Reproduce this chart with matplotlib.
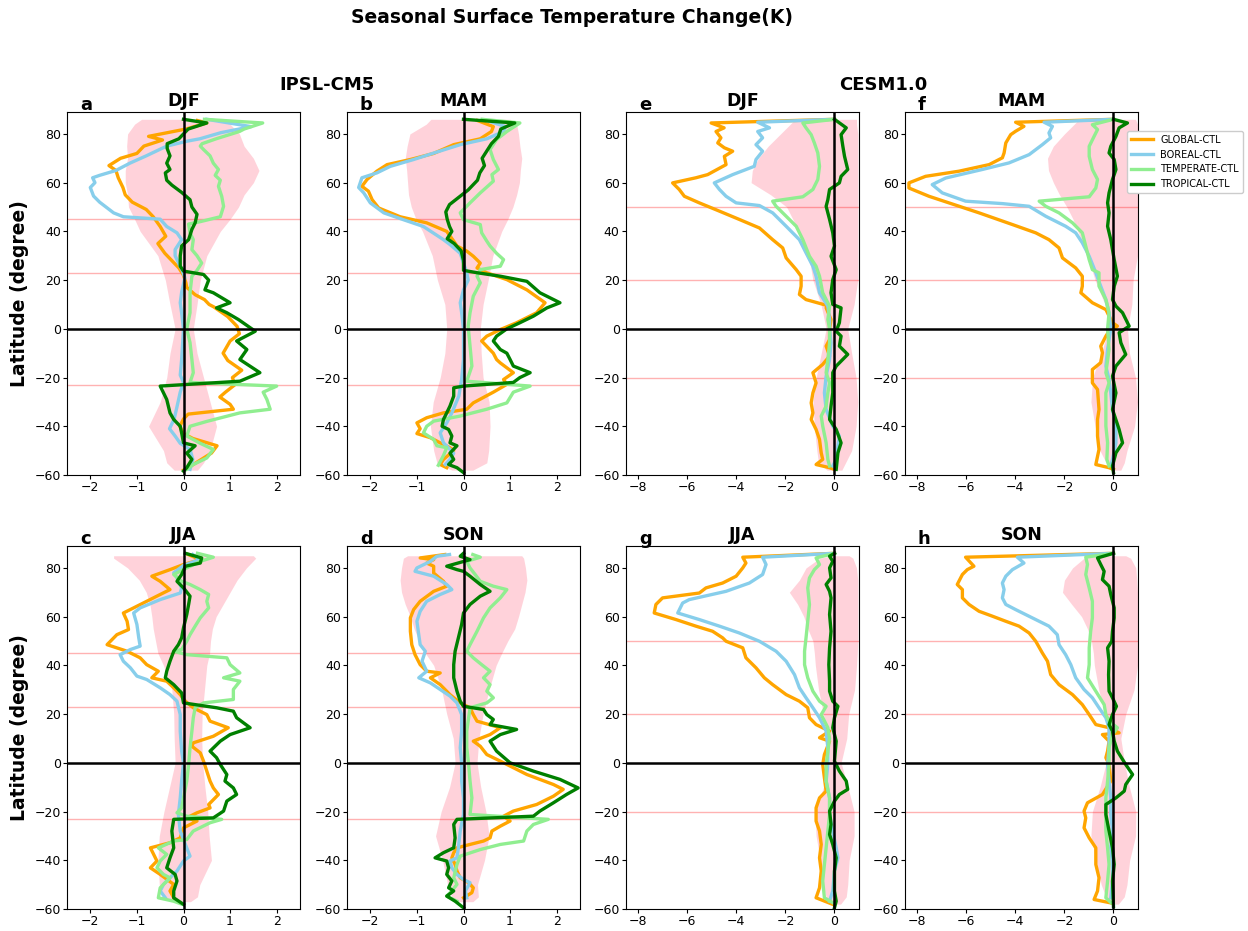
import matplotlib
matplotlib.use('Agg')
import matplotlib.pyplot as plt

# ---------------- DATA ----------------
SERIES = ['GLOBAL-CTL', 'BOREAL-CTL', 'TEMPERATE-CTL', 'TROPICAL-CTL']
COLORS = ['orange', 'skyblue', 'lightgreen', 'green']
SUPTITLE = 'Seasonal Surface Temperature Change(K)'
MODELS = ['IPSL-CM5', 'CESM1.0']
IPSL_LINES = [45, 23, -23]
CESM_LINES = [50, 20, -20]
IPSL_XTICKS = [-2, -1, 0, 1, 2]
CESM_XTICKS = [-8, -6, -4, -2, 0]
YTICKS = [-60, -40, -20, 0, 20, 40, 60, 80]

# (latitude, change) pairs
A_GLOBAL = [(85.5,0.3),(84.5,0.5),(82,0.05),(79,-0.75),(77.5,-0.45),(75,-0.85),(72,-1.0),(70,-1.35),(67,-1.6),
            (65,-1.45),(62,-1.4),(58,-1.3),(55,-1.25),(52,-1.1),(49,-0.8),(46,-0.65),(42,-0.5),(38,-0.38),(35,-0.55),
            (31,-0.4),(28,-0.25),(25,-0.1),(22,0.0),(19,0.05),(17,0.07),(14,0.25),(12,0.45),(10,0.55),(9,0.65),(5,0.95),
            (1,1.15),(-2,1.2),(-5,1.0),(-10,0.85),(-13,0.95),(-17,1.25),(-20,1.05),(-23,1.1),(-26,0.9),(-28,0.78),
            (-31,1.0),(-33,1.07),(-35,0.1),(-37,0.0),(-40,-0.08),(-43,0.0),(-45,0.2),(-48,0.72),(-51,0.6),(-54,0.35),
            (-57,0.1),(-58,0.0)]
A_BOREAL = [(86,0.5),(83,1.45),(80.5,0.8),(78,0.35),(77,0.07),(75,-0.36),(71,-0.8),(68,-1.15),(65,-1.45),(63,-1.8),
            (62,-1.95),(60,-1.9),(58,-2.0),(54.5,-1.93),(52,-1.8),(47.6,-1.5),(46,-1.29),(45,-0.5),(42,-0.36),
            (39.4,-0.14),(36.6,-0.04),(32.5,-0.18),(30,-0.18),(24,-0.03),(21,0.03),(15,-0.04),(10.7,-0.07),(6.5,-0.04),
            (0,0.0),(-12.6,-0.04),(-19,-0.07),(-22,0.0),(-26,-0.07),(-32,-0.14),(-37,-0.2),(-41,-0.3),(-44,-0.18),
            (-47,-0.07),(-49.5,0.14),(-53.6,0.2),(-57.7,0.14)]
A_TEMPERATE = [(86,0.45),(84.5,1.7),(82,1.3),(81,1.2),(78,0.7),(76,0.4),(75,0.36),(73.6,0.43),(71,0.57),(68,0.64),
               (65.4,0.75),(63,0.68),(61,0.79),(58.5,0.75),(54.4,0.82),(50.3,0.86),(46,0.79),(44,0.36),(43,0.11),
               (39.4,0.14),(36.6,0.21),(32.5,0.18),(30,0.29),(27,0.39),(24,0.29),(21.6,0.18),(14.8,0.14),(6.6,0.14),
               (0,0.07),(-5.7,0.14),(-12.6,0.18),(-18,0.21),(-22,0.14),(-23.5,2.0),(-26,1.71),(-29,1.79),(-33,1.86),
               (-34.5,1.21),(-38,0.5),(-40,0.14),(-44,0.07),(-47,0.36),(-49.5,0.64),(-53,0.5),(-55.7,0.21),(-57.7,0.07)]
A_TROPICAL = [(86,0.0),(84.5,0.5),(82,0.1),(80,0.0),(78,-0.1),(76,-0.35),(74,-0.35),(71,-0.29),(68,-0.36),(65.4,-0.29),
              (64,-0.39),(61,-0.36),(59,-0.25),(56,-0.04),(53,0.14),(50,0.18),(47,0.29),(43.5,0.25),(40.8,0.18),
              (36.6,0.11),(34,-0.04),(30,-0.07),(25.7,-0.07),(23.7,0.0),(22.3,0.43),(20,0.54),(16,0.46),(14.8,0.64),
              (10.7,1.0),(8.6,0.71),(6.6,0.93),(3.8,1.18),(-1,1.54),(-5,1.14),(-8.5,1.36),(-12.6,1.21),(-18,1.64),
              (-21.5,1.21),(-23.5,-0.5),(-29,-0.36),(-34.5,-0.29),(-37.2,-0.21),(-40,-0.07),(-42.7,-0.04),
              (-46.8,0.0),(-48,0.25),(-51,0.07),(-53.6,0.18),(-57,0.07),(-58.4,0.0)]
A_BAND = [(86,-0.9,0.8),(84,-1.05,1.0),(80,-1.2,1.2),(75,-1.22,1.3),(70,-1.2,1.5),(65,-1.25,1.62),(60,-1.25,1.5),
          (55,-1.2,1.3),(50,-1.18,1.18),(45,-1.05,1.0),(40,-0.93,0.79),(30,-0.55,0.5),(20,-0.39,0.36),(10,-0.29,0.29),
          (0,-0.18,0.21),(-10,-0.29,0.29),(-20,-0.36,0.43),(-30,-0.5,0.57),(-40,-0.75,0.71),(-50,-0.43,0.57),
          (-55,-0.36,0.43),(-58,-0.2,0.3)]

B_GLOBAL = [(85.5,0.3),(83,0.64),(81,0.6),(78,0.36),(75.6,-0.21),(72,-0.64),(69.5,-1.14),(67.4,-1.64),(64.7,-1.86),
            (61.3,-2.07),(58.5,-2.18),(56.5,-2.04),(53,-1.96),(49.6,-1.82),(46,-1.36),(43.5,-0.79),(40,-0.36),
            (36,-0.21),(34,-0.14),(31.9,0.07),(29.8,0.21),(27,0.36),(25,0.29),(23,0.5),(20.2,0.93),(16,1.36),
            (10.7,1.75),(6.6,1.57),(2.5,1.14),(-0.3,0.79),(-3,0.5),(-5,0.39),(-10,0.64),(-12.6,0.71),(-14,0.79),
            (-18,1.07),(-20.8,0.86),(-22.8,0.93),(-26,0.64),(-30.4,0.21),(-33,0.07),(-34.5,-0.43),(-36.5,-0.79),
            (-38.6,-1.0),(-41,-0.93),(-43,-1.0),(-44.7,-0.71),(-46.8,-0.5),(-48.8,-0.29),(-50,-0.21),(-53.6,-0.43),
            (-55.7,-0.5),(-57,-0.36)]
B_BOREAL = [(85.5,0.5),(83,0.9),(81,0.86),(78,0.5),(75.6,-0.07),(73,-0.5),(69.5,-1.07),(66.7,-1.57),(64,-1.86),
            (62,-2.18),(58,-2.25),(55.8,-2.14),(51.7,-2.0),(47.6,-1.71),(44.8,-1.29),(42,-0.86),(36.6,-0.43),
            (34.6,-0.29),(31,-0.07),(27,0.0),(23,0.07),(20,0.1),(16,0.0),(10.7,-0.07),(6.6,-0.04),(0,0.0),
            (-12.6,0.0),(-20.8,-0.04),(-27.6,-0.1),(-34.5,-0.25),(-38.6,-0.36),(-42.7,-0.5),(-46.8,-0.43),
            (-51,-0.21),(-53.6,-0.29),(-55.7,-0.39)]
B_TEMPERATE = [(86,0.4),(84.5,1.21),(81,0.93),(77.7,0.71),(73.6,0.57),(69.5,0.64),(65.4,0.75),(63.3,0.61),(60.6,0.64),
               (55.8,0.36),(51.7,0.14),(47.6,-0.07),(44.8,0.0),(42.8,0.36),(39.4,0.39),(36,0.5),(34,0.57),(31,0.71),
               (28.4,0.86),(25.7,0.79),(24.3,0.36),(21.6,0.29),(18.9,0.36),(13.4,0.21),(6.6,0.14),(1,0.1),(-7,0.14),
               (-15.3,0.18),(-21.5,0.07),(-23.5,1.43),(-26,1.07),(-30.4,0.93),(-33,0.5),(-35.8,-0.07),(-37.9,-0.64),
               (-40,-0.79),(-42.7,-0.86),(-45.4,-0.64),(-48,-0.57),(-48.8,-0.36),(-52,-0.43),(-56,-0.54)]
B_TROPICAL = [(86,0.0),(84.5,1.1),(82,0.8),(79,0.75),(76,0.6),(73,0.5),(70,0.4),(67,0.45),(64,0.35),(61,0.3),(57,0.1),
              (54,-0.1),(51,-0.3),(48,-0.38),(45,-0.35),(42,-0.3),(40,-0.25),(37,-0.35),(35,-0.2),(32,-0.05),(28,0.0),
              (24,0.0),(23,0.3),(21.6,0.79),(19.5,1.36),(14.8,1.64),(10.7,2.07),(8.6,1.79),(5.2,1.5),(2.5,1.21),
              (0,0.93),(-3,0.71),(-5,0.64),(-8.5,0.79),(-10,0.93),(-12.6,1.0),(-15.3,1.07),(-18,1.43),(-20,1.21),
              (-22,1.07),(-23.5,0.0),(-24.2,-0.21),(-27.6,-0.21),(-31.7,-0.29),(-34.5,-0.36),(-37.2,-0.43),
              (-40,-0.46),(-41.3,-0.32),(-44,-0.25),(-46.8,-0.29),(-48,-0.14),(-51,-0.29),(-53.6,-0.21),
              (-55.7,-0.32),(-57,-0.14),(-59,0.0)]
B_BAND = [(86,-0.7,1.0),(84,-0.8,1.14),(80,-1.15,1.18),(75,-1.21,1.21),(70,-1.25,1.25),(65,-1.22,1.22),(60,-1.2,1.2),
          (55,-1.18,1.14),(50,-1.12,1.06),(45,-1.02,0.95),(40,-0.88,0.82),(30,-0.67,0.63),(20,-0.56,0.53),
          (10,-0.4,0.42),(0,-0.36,0.36),(-10,-0.4,0.38),(-20,-0.5,0.42),(-30,-0.65,0.55),(-40,-0.71,0.57),
          (-50,-0.64,0.54),(-55,-0.57,0.5),(-58,-0.25,0.2)]

C_GLOBAL = [(85.5,0.1),(83.4,0.36),(81.4,0.0),(79.3,-0.29),(76.6,-0.68),(74.5,-0.5),(71.1,-0.29),(69.1,-0.5),
            (66.3,-0.79),(63.6,-1.07),(61.5,-1.29),(58.1,-1.21),(54.7,-1.18),(52.6,-1.43),(48.5,-1.64),(45.8,-1.21),
            (43.1,-0.93),(40.3,-0.79),(37.6,-0.54),(34.9,-0.68),(33.5,-0.36),(30.8,-0.21),(28,-0.07),(25.3,0.04),
            (22.6,0.21),(19.8,0.5),(17.1,0.57),(14.4,0.96),(10.9,0.64),(8.2,0.21),(6.8,0.18),(4.1,0.36),(0.7,0.43),
            (-3.4,0.5),(-7.5,0.57),(-10.3,0.64),(-13,0.75),(-17.1,0.54),(-18.5,0.57),(-20.5,0.29),(-22.6,0.07),
            (-23.9,0.29),(-26.7,0.0),(-30.8,-0.07),(-32.8,-0.29),(-34.9,-0.71),(-37.6,-0.64),(-40.3,-0.57),
            (-43.1,-0.71),(-45.8,-0.5),(-49.9,-0.21),(-52.6,-0.29),(-55.4,-0.21)]
C_BOREAL = [(85.5,0.2),(83.5,0.35),(81,0.0),(78,-0.21),(75.9,-0.14),(71.8,-0.04),(69.7,-0.07),(67,-0.5),(63.6,-0.93),
            (61.5,-1.07),(56.8,-1.0),(51.3,-0.96),(47.9,-0.93),(46.5,-1.14),(44.4,-1.36),(41.7,-1.29),(39,-1.14),
            (35.6,-1.0),(34.2,-0.79),(30.8,-0.5),(28,-0.29),(25.3,-0.14),(19.8,-0.07),(13,-0.07),(4.8,-0.04),(0,0.0),
            (-7.5,-0.04),(-14.4,-0.07),(-21.2,-0.11),(-28,-0.07),(-33.5,0.04),(-38.3,0.14),(-40.3,0.0),(-44.4,-0.14),
            (-47.2,-0.29),(-49.9,-0.43),(-52.6,-0.5),(-55.4,-0.39)]
C_TEMPERATE = [(86,0.3),(84.4,0.64),(82.7,0.36),(80,0.07),(77.3,-0.21),(74.5,-0.04),(73.2,0.14),(71.1,0.36),
               (69.1,0.54),(66.3,0.5),(63.6,0.54),(59.5,0.36),(56.1,0.25),(52.6,0.14),(49.9,0.07),(46.5,-0.04),
               (45.8,-0.21),(44.4,0.07),(43.1,0.93),(40.3,1.0),(36.9,1.21),(34.9,0.86),(33.5,1.21),(30.1,1.07),
               (26,1.07),(24.6,0.43),(22.6,0.25),(18.5,0.21),(13,0.18),(6.2,0.14),(-0.7,0.11),(-7.5,0.07),
               (-14.4,0.0),(-18.5,-0.04),(-20.5,-0.14),(-21.9,0.07),(-23.2,0.82),(-24.6,0.57),(-28,0.21),
               (-31.5,0.07),(-32.1,-0.21),(-34.9,-0.54),(-37.6,-0.36),(-40.3,-0.5),(-43.1,-0.57),(-45.8,-0.43),
               (-47.2,-0.29),(-51.3,-0.5),(-55.4,-0.54),(-56.8,-0.21),(-58,-0.04)]
C_TROPICAL = [(86,0.04),(84.1,0.39),(82,0.36),(80.7,0.04),(77.3,-0.04),(74.5,-0.14),(71.8,0.0),(68.4,0.14),(65,0.11),
              (60.9,0.07),(55.4,0.0),(51.3,-0.04),(48.5,-0.11),(45.8,-0.21),(41.7,-0.29),(37.6,-0.36),(34.9,-0.39),
              (32.1,-0.21),(28.7,-0.04),(24.6,0.0),(22.6,0.71),(21.2,1.07),(18.5,1.14),(14.4,1.43),(11.6,1.0),
              (8.9,0.79),(4.8,0.57),(2.1,0.71),(-0.7,0.79),(-4.8,0.93),(-7.5,0.89),(-10.3,1.07),(-13,1.14),
              (-15.7,0.93),(-19.8,0.86),(-22.6,0.64),(-23.2,-0.21),(-28,-0.25),(-34.9,-0.21),(-39,-0.29),
              (-43.1,-0.36),(-45.8,-0.18),(-48.5,-0.14),(-52.6,-0.21),(-55.4,-0.21),(-58.1,0.0)]
C_BAND = [(85,-1.5,1.5),(84,-1.5,1.55),(80,-1.2,1.35),(75,-0.95,1.15),(70,-0.8,1.0),(65,-0.72,0.85),(60,-0.68,0.7),
          (55,-0.65,0.62),(50,-0.6,0.58),(45,-0.55,0.56),(40,-0.43,0.5),(30,-0.25,0.45),(20,-0.21,0.4),
          (10,-0.2,0.39),(0,-0.18,0.41),(-10,-0.3,0.46),(-20,-0.42,0.52),(-30,-0.52,0.55),(-40,-0.55,0.6),
          (-50,-0.52,0.35),(-55,-0.45,0.3),(-57,-0.2,0.15)]

D_GLOBAL = [(85.5,-0.4),(84.1,-0.93),(83.4,-0.64),(82,-0.79),(80.7,-0.64),(77.9,-0.64),(74.5,-0.43),(72.5,-0.36),
            (70.4,-0.64),(66.3,-0.93),(62.9,-1.07),(59.5,-1.14),(54,-1.14),(48.5,-1.11),(44.4,-1.04),(40.3,-0.93),
            (37.6,-0.79),(36.9,-0.5),(34.9,-0.71),(32.1,-0.5),(28,-0.29),(24.6,-0.07),(22.6,0.14),(19.8,0.21),
            (17.1,0.29),(14.4,0.79),(11.6,0.57),(8.9,0.21),(6.8,0.36),(3.4,0.5),(0.7,0.79),(-4.8,1.36),(-8.9,1.93),
            (-10.9,2.14),(-13.7,1.93),(-17.1,1.57),(-19.8,1.07),(-21.9,0.86),(-23.9,1.0),(-26,0.79),(-28,0.61),
            (-30.8,0.57),(-32.1,0.43),(-33.5,0.14),(-34.9,-0.14),(-36.9,-0.21),(-39,-0.25),(-41.7,-0.18),
            (-44.4,-0.14),(-47.2,-0.07),(-49.2,0.11),(-51.3,0.21),(-53.3,0.18),(-55.4,0.0)]
D_BOREAL = [(85.5,-0.3),(84.8,-0.57),(82.7,-0.71),(80,-1.0),(78.6,-1.04),(76.6,-0.64),(73.2,-0.36),(71.1,-0.25),
            (69.1,-0.5),(66.3,-0.79),(62.2,-0.93),(58.1,-1.0),(52.6,-0.96),(48.5,-0.93),(45.8,-0.82),(41.7,-0.89),
            (37.6,-0.79),(34.9,-0.96),(32.8,-0.71),(30.1,-0.5),(27.4,-0.29),(24.6,-0.14),(19.8,-0.04),(13,-0.04),
            (6.2,-0.07),(0,-0.04),(-7.5,-0.04),(-14.4,0.0),(-21.2,0.0),(-28,-0.07),(-34.9,-0.11),(-39,-0.14),
            (-40.3,-0.29),(-43.1,-0.25),(-45.8,-0.14),(-47.9,0.0),(-49.2,0.14),(-52.6,0.04),(-55.4,0.07)]
D_TEMPERATE = [(85.5,0.2),(84.4,0.36),(82.7,0.07),(80,0.14),(77.3,0.25),(74.5,0.36),(72.5,0.64),(71.1,0.93),
               (67.7,0.79),(63.6,0.57),(59.5,0.43),(54,0.29),(48.5,0.14),(45.8,0.07),(43.1,0.21),(40.3,0.39),
               (37.6,0.57),(34.9,0.43),(32.1,0.57),(29.4,0.5),(26.7,0.64),(24.6,0.5),(22.6,0.14),(18.5,0.11),
               (13,0.07),(6.2,0.07),(-0.7,0.11),(-7.5,0.14),(-14.4,0.18),(-21.2,0.14),(-23.2,1.82),(-25.3,1.5),
               (-28,1.36),(-32.1,1.29),(-33.5,0.79),(-35.6,0.36),(-38.3,-0.07),(-41.7,-0.14),(-47.2,-0.21),
               (-49.9,-0.14),(-52.6,-0.25),(-54.7,-0.36),(-56.8,-0.14)]
D_TROPICAL = [(86,0.0),(84.8,-0.07),(83.4,0.14),(80.7,-0.36),(79.3,-0.14),(78.6,0.0),(76.6,0.14),(73.2,0.36),
              (70.4,0.57),(68.4,0.36),(65,0.14),(61.5,0.0),(56.8,-0.04),(51.3,-0.11),(45.8,-0.18),(40.3,-0.21),
              (34.9,-0.21),(29.4,-0.14),(25.3,-0.07),(23.2,0.0),(21.9,0.43),(19.8,0.5),(17.8,0.64),(15.7,0.57),
              (13.7,1.14),(11.6,0.79),(8.9,0.57),(4.8,0.71),(0,1.0),(-3.4,1.5),(-6.8,2.07),(-10.3,2.46),(-13,2.21),
              (-16.4,1.93),(-19.8,1.64),(-21.9,1.5),(-23.2,-0.14),(-25.3,-0.21),(-30.8,-0.18),(-34.9,-0.21),
              (-36.9,-0.43),(-39,-0.61),(-40.3,-0.36),(-43.1,-0.32),(-45.8,-0.36),(-48.5,-0.25),(-51.3,-0.32),
              (-52.6,-0.21),(-54.7,-0.36),(-56.8,-0.18),(-59.5,0.0)]
D_BAND = [(85,-1.2,1.25),(84,-1.29,1.29),(80,-1.33,1.33),(75,-1.36,1.36),(70,-1.33,1.32),(65,-1.25,1.25),
          (60,-1.14,1.18),(55,-1.06,1.1),(50,-0.95,0.95),(45,-0.82,0.82),(40,-0.64,0.7),(30,-0.47,0.55),
          (20,-0.36,0.42),(10,-0.22,0.33),(0,-0.18,0.29),(-10,-0.3,0.37),(-20,-0.48,0.48),(-30,-0.6,0.55),
          (-40,-0.45,0.45),(-50,-0.34,0.3),(-55,-0.25,0.32),(-57,-0.1,0.2)]

E_GLOBAL = [(86,0.0),(84.5,-5.03),(82.5,-4.5),(81,-4.83),(78.4,-4.63),(76.3,-4.76),(74.3,-4.49),(72.9,-4.15),
            (70.8,-4.49),(67.4,-4.42),(63.3,-5.17),(62,-5.65),(59.9,-6.6),(57.2,-6.33),(54.4,-6.12),(51.7,-5.51),
            (48.3,-4.69),(44.9,-3.88),(41.4,-3.06),(36.6,-2.52),(33.2,-2.11),(29.1,-1.97),(24.3,-1.56),(21.6,-1.36),
            (17.5,-1.36),(14.1,-1.43),(12,-1.16),(9.3,-0.2),(8.6,-0.34),(3.8,-0.14),(0,-0.2),(-4.4,-0.2),
            (-7.1,-0.34),(-11.2,-0.2),(-14.6,-0.48),(-18,-0.88),(-22.2,-0.75),(-26.3,-0.88),(-30.4,-0.95),
            (-34.5,-0.88),(-37.2,-0.95),(-41.3,-0.75),(-45.4,-0.61),(-50.9,-0.54),(-53.6,-0.48),(-55.7,-0.75),
            (-57,-0.2),(-57.7,0.0)]
E_BOREAL = [(86,0.0),(84.8,-3.13),(82.5,-2.65),(81,-3.13),(78.4,-2.93),(75.6,-3.2),(72.9,-2.93),(69.5,-3.2),
            (66.7,-3.27),(63.3,-4.15),(59.9,-4.9),(57.2,-4.69),(54.4,-4.42),(51.7,-4.01),(50.6,-3.06),(47.6,-2.52),
            (42.1,-1.97),(36.6,-1.43),(31.2,-1.16),(25.7,-0.88),(21.6,-0.75),(14.8,-0.61),(9.3,-0.27),(3.8,-0.2),
            (0,-0.2),(-5.7,-0.14),(-12.6,-0.2),(-19.4,-0.34),(-26.3,-0.41),(-33.1,-0.34),(-39.9,-0.07),(-44,0.2),
            (-48.1,0.14),(-53.6,0.07),(-56.3,-0.07)]
E_TEMPERATE = [(86,0.0),(84.5,-1.29),(82.5,-1.16),(79.7,-0.95),(76.3,-0.82),(72.2,-0.68),(66.7,-0.61),(61.3,-0.68),
               (57.2,-0.88),(54.2,-1.29),(52.4,-2.52),(50.3,-2.38),(46.2,-1.97),(42.1,-1.56),(36.6,-1.29),
               (29.8,-1.02),(25.7,-0.75),(21.6,-0.61),(14.8,-0.48),(9.3,-0.2),(3.8,-0.27),(0,-0.2),(-5.7,-0.2),
               (-12.6,-0.27),(-18,-0.34),(-22.2,-0.2),(-26.3,-0.27),(-31.7,-0.34),(-35.8,-0.54),(-39.9,-0.48),
               (-46.8,-0.34),(-53.6,-0.27),(-56.3,-0.2)]
E_TROPICAL = [(86,0.0),(82.5,0.48),(79.7,0.27),(75,0.34),(70.8,0.41),(65.4,0.54),(62.6,0.27),(59.9,0.2),(57.2,-0.2),
              (53,-0.27),(50.3,-0.34),(44.9,-0.2),(39.4,-0.07),(34,0.0),(29.8,-0.14),(24.3,0.07),(20.2,-0.07),
              (14.8,-0.14),(10,-0.07),(8.6,0.27),(2.5,0.2),(-1,0.07),(-3,0.27),(-7.1,0.2),(-10.5,0.54),(-15.3,0.07),
              (-18,-0.07),(-26.3,-0.07),(-31.7,-0.14),(-37.2,-0.2),(-41.3,0.07),(-46.8,0.27),(-50.9,0.14),
              (-57.7,0.07)]
E_BAND = [(86,-1.6,0.9),(84,-1.8,0.9),(80,-2.2,0.95),(75,-2.7,0.95),(70,-3.1,0.95),(65,-3.35,0.95),(60,-3.4,0.95),
          (55,-2.6,0.95),(50,-1.95,0.95),(45,-1.7,0.95),(40,-1.45,0.95),(30,-1.05,0.95),(20,-0.88,0.95),
          (10,-0.55,0.8),(0,-0.34,0.54),(-10,-0.54,0.7),(-20,-0.75,0.88),(-30,-0.88,0.95),(-40,-0.82,0.88),
          (-50,-0.72,0.7),(-55,-0.65,0.45),(-58,-0.3,0.3)]

F_GLOBAL = [(86,0.0),(84.8,-3.99),(83.1,-3.65),(81.1,-3.99),(79.7,-4.19),(76.3,-4.39),(72.2,-4.46),(70.2,-4.53),
            (67.4,-5.07),(64.7,-6.3),(62.6,-7.66),(59.9,-8.34),(57.8,-8.34),(54.4,-7.52),(51.7,-6.71),(47.6,-5.48),
            (42.8,-4.12),(39.4,-3.17),(36.6,-2.63),(33.2,-2.22),(29.1,-2.08),(25,-1.54),(21.6,-1.27),(17.5,-1.27),
            (14.8,-1.33),(10.7,-0.86),(7.9,-0.31),(2.5,-0.04),(1.1,0.16),(-1,-0.18),(-3,-0.31),(-7.1,-0.52),
            (-9.8,-0.45),(-13.9,-0.52),(-16.7,-0.86),(-22.2,-0.86),(-24.9,-0.65),(-33.1,-0.59),(-37.2,-0.65),
            (-44,-0.65),(-49.5,-0.59),(-55.7,-0.72),(-57,-0.18),(-57.7,0.0)]
F_BOREAL = [(86,0.0),(84.8,-2.83),(83.1,-2.49),(80.4,-2.63),(78.4,-2.56),(75.6,-2.9),(71.5,-3.44),(68.1,-4.26),
            (65.4,-5.35),(61.9,-6.84),(59.2,-7.39),(55.8,-6.98),(52.4,-6.03),(51.4,-4.53),(50.3,-3.44),(46.2,-2.76),
            (42.1,-1.95),(39.4,-1.54),(35.3,-1.27),(29.8,-0.99),(23,-0.72),(17.5,-0.52),(12,-0.31),(6.6,-0.18),
            (0,-0.11),(-8.5,-0.24),(-15.3,-0.31),(-20.8,-0.18),(-26.3,-0.11),(-33.1,-0.04),(-39.9,0.1),(-46.8,0.1),
            (-53.6,-0.04),(-56,-0.1)]
F_TEMPERATE = [(86,0.0),(83.8,-0.86),(81.8,-0.65),(79,-0.79),(74.9,-0.99),(70.8,-0.99),(65.4,-0.86),(61.3,-0.65),
               (57.8,-0.72),(54.2,-0.99),(52.4,-3.03),(50.3,-2.76),(47.6,-2.22),(43.5,-1.67),(39.4,-1.27),
               (33.9,-1.13),(28.4,-0.99),(24.3,-0.86),(23,-0.59),(17.5,-0.59),(12,-0.31),(6.6,-0.18),(0,-0.24),
               (-8.5,-0.18),(-18,-0.31),(-22.2,-0.18),(-26.3,-0.31),(-34.5,-0.31),(-39.9,-0.31),(-46.8,-0.24),
               (-53.6,-0.27),(-56.3,-0.18)]
F_TROPICAL = [(86,0.0),(84.5,0.57),(82.5,0.23),(79,0.1),(74.9,-0.11),(72.2,-0.18),(69.5,0.03),(65.4,0.1),(61.3,-0.04),
              (55.8,-0.18),(51.7,-0.24),(47.6,-0.18),(42.1,-0.24),(36.6,-0.11),(28.4,0.03),(21.6,0.16),(17.5,0.03),
              (12,-0.04),(9.3,0.1),(6.6,0.37),(1.1,0.64),(-1.6,0.23),(-5.7,0.3),(-10.5,0.5),(-15.3,0.1),
              (-19.4,-0.04),(-26.3,0.1),(-33.1,-0.04),(-41.3,0.23),(-46.8,0.37),(-50.9,0.1),(-56.3,-0.04),(-59,0.0)]
F_BAND = [(86,-1.4,0.9),(84,-1.6,0.98),(80,-2.0,0.98),(75,-2.45,0.98),(70,-2.69,0.98),(65,-2.65,0.98),(60,-2.45,0.98),
          (55,-2.2,0.98),(50,-1.9,0.98),(45,-1.65,0.98),(40,-1.45,0.98),(30,-1.06,0.98),(20,-0.75,0.8),
          (10,-0.35,0.75),(0,-0.2,0.57),(-10,-0.5,0.65),(-20,-0.85,0.9),(-30,-0.92,0.98),(-40,-0.75,0.86),
          (-50,-0.55,0.55),(-55,-0.3,0.44),(-58,-0.1,0.3)]

G_GLOBAL = [(86,0.0),(84.4,-3.74),(82,-3.61),(80,-3.74),(76.6,-4.01),(73.8,-4.56),(71.8,-5.24),(69.7,-5.51),
            (67.7,-7.01),(65,-7.28),(61.5,-7.35),(58.8,-6.46),(56.1,-5.65),(54,-4.97),(51.3,-4.56),(49.9,-4.42),
            (47.2,-3.74),(43.1,-3.61),(39,-3.2),(34.9,-2.86),(32.1,-2.52),(28,-1.97),(25.3,-1.43),(22.6,-1.09),
            (18.5,-1.02),(15.7,-0.75),(13,-0.2),(10.3,-0.61),(8.9,-0.2),(3.4,-0.41),(-0.7,-0.48),(-6.2,-0.41),
            (-11.6,-0.34),(-14.4,-0.61),(-18.5,-0.75),(-23.9,-0.75),(-28,-0.61),(-33.5,-0.54),(-39,-0.61),
            (-44.4,-0.54),(-51.3,-0.61),(-55.4,-0.75),(-58.1,-0.07)]
G_BOREAL = [(86,0.0),(84.4,-2.93),(81.4,-2.79),(77.3,-2.93),(73.8,-3.47),(70.4,-4.42),(67,-5.92),(65.6,-6.19),
            (61.5,-6.39),(58.8,-5.51),(56.1,-4.69),(53.3,-3.88),(49.9,-3.06),(45.8,-2.38),(41.7,-1.97),(36.2,-1.63),
            (30.8,-1.43),(26.7,-1.16),(22.6,-0.88),(18.5,-0.61),(13,-0.34),(6.2,-0.27),(-0.7,-0.27),(-7.5,-0.34),
            (-14.4,-0.2),(-21.2,-0.2),(-28,-0.07),(-34.9,0.07),(-39,0.14),(-44.4,0.0),(-52.6,-0.07),(-56.8,-0.2)]
G_TEMPERATE = [(86,0.0),(84.1,-0.75),(81.4,-0.61),(79.3,-0.82),(75.9,-1.02),(71.8,-1.09),(65,-1.02),(58.1,-1.09),
               (51.3,-1.16),(45.8,-1.22),(40.3,-1.22),(34.9,-1.09),(29.4,-0.88),(25.3,-0.61),(23.2,-0.34),
               (19.8,-0.54),(14.4,-0.27),(10,-0.2),(4.8,-0.27),(-0.7,-0.34),(-7.5,-0.34),(-14.4,-0.2),(-21.2,-0.2),
               (-28,-0.27),(-34.9,-0.34),(-41.7,-0.41),(-48.5,-0.48),(-55.4,-0.41),(-57.4,-0.07)]
G_TROPICAL = [(86,0.0),(84.8,-0.2),(82.7,-0.07),(80,-0.2),(75.9,-0.14),(73.2,-0.34),(70.4,-0.2),(67.7,-0.14),
              (60.9,-0.2),(54,-0.14),(47.2,-0.2),(40.3,-0.23),(33.5,-0.2),(29.4,-0.2),(25.3,-0.07),(23.2,0.14),
              (18.5,0.0),(14.4,-0.07),(8.9,0.07),(0.7,0.0),(-3.4,0.2),(-7.5,0.48),(-10.9,0.54),(-13,0.2),(-15.7,0.0),
              (-19.8,-0.2),(-25.3,-0.14),(-29.4,-0.2),(-33.5,-0.07),(-39,0.07),(-44.4,0.0),(-52.6,0.0),(-56.8,0.07),
              (-59.5,0.0)]
G_BAND = [(85,-0.1,0.6),(84,-0.6,0.75),(80,-1.16,0.9),(75,-1.43,0.95),(70,-1.84,0.95),(65,-1.5,0.95),(60,-1.25,0.95),
          (55,-1.09,0.95),(50,-0.88,0.95),(45,-0.82,0.93),(40,-0.78,0.9),(30,-0.65,0.82),(20,-0.45,0.58),
          (10,-0.3,0.5),(0,-0.2,0.27),(-10,-0.45,0.55),(-20,-0.8,0.8),(-30,-0.75,0.8),(-40,-0.58,0.6),
          (-50,-0.48,0.54),(-55,-0.34,0.48),(-58,-0.1,0.25)]

H_GLOBAL = [(86,0.0),(84.4,-6.03),(80.7,-5.69),(79.3,-5.96),(77.3,-6.16),(73.2,-6.37),(71.1,-6.16),(67.7,-6.16),
            (65,-5.89),(62.2,-5.48),(60.2,-4.94),(58.1,-4.39),(56.1,-3.85),(53.3,-3.44),(49.9,-3.17),(45.1,-2.9),
            (41.7,-2.69),(36.2,-2.56),(32.1,-2.22),(28,-1.67),(23.9,-1.27),(19.8,-0.99),(15.7,-0.72),(14.4,-0.18),
            (12.3,0.23),(11.6,-0.45),(8.9,-0.18),(4.8,-0.24),(2.1,-0.31),(-0.7,-0.18),(-7.5,-0.11),(-13,-0.45),
            (-16.4,-1.06),(-19.8,-1.2),(-22.6,-1.13),(-26.7,-1.2),(-30.8,-0.99),(-34.9,-0.72),(-41.7,-0.72),
            (-47.2,-0.59),(-52.6,-0.65),(-56.1,-0.79),(-57.5,-0.11)]
H_BOREAL = [(86,0.0),(84.4,-3.92),(82,-3.65),(79.3,-4.12),(76.6,-4.39),(73.8,-4.53),(71.1,-4.46),(67.7,-4.53),
            (65,-4.39),(62.9,-3.99),(59.5,-3.31),(56.1,-2.63),(52.6,-2.29),(48.5,-2.22),(44.4,-1.95),(40.3,-1.74),
            (34.9,-1.54),(30.1,-1.2),(26.7,-0.86),(22.6,-0.59),(18.5,-0.31),(14.4,-0.18),(6.2,-0.18),(-0.7,-0.24),
            (-7.5,-0.18),(-14.4,-0.11),(-21.2,-0.11),(-28,-0.04),(-34.9,-0.11),(-41.7,-0.04),(-48.5,-0.04),
            (-55.4,-0.11)]
H_TEMPERATE = [(86,0.0),(84.4,-1.13),(81.4,-1.06),(77.3,-1.13),(71.8,-0.99),(66.3,-0.86),(59.5,-0.86),(54,-0.93),
               (47.2,-0.99),(40.3,-0.99),(34.9,-1.06),(29.4,-0.72),(23.9,-0.38),(19.8,-0.31),(17.1,-0.18),
               (14.4,0.16),(11.6,-0.04),(6.2,-0.18),(-0.7,-0.18),(-7.5,-0.24),(-14.4,-0.31),(-21.2,-0.31),
               (-28,-0.31),(-34.9,-0.24),(-41.7,-0.18),(-48.5,-0.24),(-55.4,-0.31),(-57.4,-0.1)]
H_TROPICAL = [(86,0.0),(84.1,-0.65),(81.4,-0.52),(78.6,-0.38),(75.2,-0.45),(72.5,-0.18),(69.1,-0.11),(63.6,0.03),
              (59.5,0.03),(54,-0.04),(49.9,-0.07),(47.2,-0.24),(41.7,-0.18),(36.2,-0.2),(29.4,-0.18),(26.7,-0.04),
              (23.2,0.12),(19.8,-0.04),(15.7,-0.18),(13,-0.04),(8.9,0.03),(4.8,0.16),(-0.7,0.5),(-4.8,0.78),
              (-8.9,0.5),(-11.6,0.44),(-14.4,0.1),(-17.1,-0.31),(-21.2,-0.31),(-28,-0.18),(-34.9,-0.04),
              (-41.7,0.03),(-48.5,-0.04),(-59,0.0)]
H_BAND = [(85,-0.5,0.5),(84,-1.2,0.7),(80,-1.67,0.91),(75,-2.0,0.95),(70,-2.08,0.98),(65,-1.7,0.98),(60,-1.3,0.98),
          (55,-1.06,0.98),(50,-0.9,0.98),(45,-0.82,0.98),(40,-0.78,0.98),(30,-0.6,0.84),(20,-0.35,0.5),
          (10,-0.24,0.3),(0,-0.3,0.45),(-10,-0.55,0.65),(-20,-0.86,0.91),(-30,-0.92,0.9),(-40,-0.72,0.66),
          (-50,-0.5,0.55),(-55,-0.31,0.44),(-58,-0.1,0.2)]

# panel letter, season, series, band, model index ; layout: row, column
PANELS = [
    ('a', 'DJF', [A_GLOBAL, A_BOREAL, A_TEMPERATE, A_TROPICAL], A_BAND, 0, 0, 0),
    ('b', 'MAM', [B_GLOBAL, B_BOREAL, B_TEMPERATE, B_TROPICAL], B_BAND, 0, 0, 1),
    ('e', 'DJF', [E_GLOBAL, E_BOREAL, E_TEMPERATE, E_TROPICAL], E_BAND, 1, 0, 2),
    ('f', 'MAM', [F_GLOBAL, F_BOREAL, F_TEMPERATE, F_TROPICAL], F_BAND, 1, 0, 3),
    ('c', 'JJA', [C_GLOBAL, C_BOREAL, C_TEMPERATE, C_TROPICAL], C_BAND, 0, 1, 0),
    ('d', 'SON', [D_GLOBAL, D_BOREAL, D_TEMPERATE, D_TROPICAL], D_BAND, 0, 1, 1),
    ('g', 'JJA', [G_GLOBAL, G_BOREAL, G_TEMPERATE, G_TROPICAL], G_BAND, 1, 1, 2),
    ('h', 'SON', [H_GLOBAL, H_BOREAL, H_TEMPERATE, H_TROPICAL], H_BAND, 1, 1, 3),
]

# ---------------- FIGURE ----------------
W, H = 1248, 931
fig = plt.figure(figsize=(W / 100, H / 100), dpi=100)
col_left = [67, 347, 626, 905]
row_top = [112, 546]
aw, ah = 233, 363

for letter, season, series, band, model, row, col in PANELS:
    ax = fig.add_axes([col_left[col] / W, 1 - (row_top[row] + ah) / H, aw / W, ah / H])
    blat = [b[0] for b in band]
    blo = [b[1] for b in band]
    bhi = [b[2] for b in band]
    ax.fill_betweenx(blat, blo, bhi, color='pink', alpha=0.7, lw=0, zorder=1)
    hl = IPSL_LINES if model == 0 else CESM_LINES
    for y in hl:
        ax.axhline(y, color='red', alpha=0.3, lw=1, zorder=2)
    for name, color, data in zip(SERIES, COLORS, series):
        lat = [p[0] for p in data]
        val = [p[1] for p in data]
        ax.plot(val, lat, color=color, lw=2.4, label=name, zorder=3)
    ax.axvline(0, color='black', lw=1.8, zorder=4)
    ax.axhline(0, color='black', lw=1.8, zorder=4)
    if model == 0:
        ax.set_xlim(-2.5, 2.5)
        ax.set_xticks(IPSL_XTICKS)
    else:
        ax.set_xlim(-8.5, 1)
        ax.set_xticks(CESM_XTICKS)
    ax.set_ylim(-60, 89)
    ax.set_yticks(YTICKS)
    ax.tick_params(labelsize=9, length=3, pad=1.5)
    ax.set_title(season, fontsize=12.5, fontweight='bold', pad=4.5)
    ax.text(0.055, 0.006, letter, transform=ax.transAxes, fontsize=13,
            fontweight='bold', ha='left', va='baseline')
    ax.texts[-1].set_y(1.006)
    if col == 0:
        ax.set_ylabel('Latitude (degree)', fontsize=13.5, fontweight='bold')
    if letter == 'f':
        ax.legend(loc='upper right', bbox_to_anchor=(1.45, 0.948), fontsize=7,
                  handlelength=2.2, borderaxespad=0, framealpha=1)

fig.text(572 / W, 1 - 17.5 / H, SUPTITLE, ha='center', va='center', fontsize=13.5, fontweight='bold')
fig.text(327 / W, 1 - 84.5 / H, MODELS[0], ha='center', va='center', fontsize=13, fontweight='bold')
fig.text(883 / W, 1 - 84.5 / H, MODELS[1], ha='center', va='center', fontsize=13, fontweight='bold')

fig.savefig('out.png', dpi=100)
